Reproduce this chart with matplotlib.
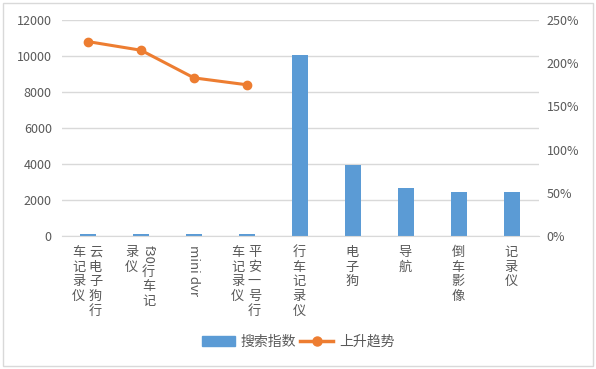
import matplotlib
matplotlib.use('Agg')
import matplotlib.pyplot as plt
import numpy as np
from matplotlib.patches import Rectangle, Patch
from matplotlib.lines import Line2D
from matplotlib.ticker import FuncFormatter

plt.rcParams['font.family'] = ['Noto Sans CJK SC', 'DejaVu Sans']

categories = ['云电子狗行车记录仪', 'f30行车记录仪', 'mini dvr', '平安一号行车记录仪',
              '行车记录仪', '电子狗', '导航', '倒车影像', '记录仪']
# category labels as Excel wraps them (right column first)
label_columns = [['云电子狗行', '车记录仪'], ['f30行车记', '录仪'], ['mini dvr'],
                 ['平安一号行', '车记录仪'], ['行车记录仪'], ['电子狗'], ['导航'],
                 ['倒车影像'], ['记录仪']]
search_index = [90, 90, 90, 90, 10050, 3960, 2680, 2460, 2460]
trend = [2.25, 2.15, 1.83, 1.75, np.nan, np.nan, np.nan, np.nan, np.nan]
left_ticks = [0, 2000, 4000, 6000, 8000, 10000, 12000]
right_ticks = [0, 0.5, 1.0, 1.5, 2.0, 2.5]

W, H = 596, 369
BLUE = '#5B9BD5'
ORANGE = '#ED7D31'
GRID = '#d9d9d9'
TXT = '#595959'

fig = plt.figure(figsize=(W / 100, H / 100), dpi=100)
ax = fig.add_axes([61.5 / W, 1 - 236 / H, 477 / W, 216 / H])
x = np.arange(len(categories))

ax.bar(x, search_index, width=0.32, color=BLUE, zorder=2)
ax.set_xlim(-0.5, len(categories) - 0.5)
ax.set_ylim(0, 12000)
ax.set_yticks(left_ticks)
ax.set_xticks([])
ax.yaxis.grid(True, color=GRID, linewidth=1)
ax.set_axisbelow(True)
for s in ['top', 'left', 'right']:
    ax.spines[s].set_visible(False)
ax.spines['bottom'].set_color(GRID)
ax.tick_params(axis='y', length=0, pad=7, labelsize=9, labelcolor=TXT)

ax2 = ax.twinx()
ax2.plot(x, trend, color=ORANGE, linewidth=2.2, marker='o', markersize=6, zorder=3)
ax2.set_ylim(0, 2.5)
ax2.set_yticks(right_ticks)
ax2.yaxis.set_major_formatter(FuncFormatter(lambda v, p: f'{v:.0%}'))
for s in ax2.spines.values():
    s.set_visible(False)
ax2.tick_params(axis='y', length=0, pad=6, labelsize=9, labelcolor=TXT)

# vertical stacked category labels
renderer = fig.canvas.get_renderer()
top_px = 245
step = 14.7
for i, cols in enumerate(label_columns):
    xc = ax.transData.transform((i, 0))[0] - 1
    n = len(cols)
    for k, col in enumerate(cols):
        xp = xc + (n - 1) / 2 * 17 - k * 17
        y = top_px
        j = 0
        while j < len(col):
            ch = col[j]
            if ord(ch) < 128:
                run = ''
                while j < len(col) and ord(col[j]) < 128:
                    run += col[j]
                    j += 1
                t = fig.text(xp / W, 1 - y / H, run, rotation=270, ha='center', va='top',
                             fontsize=9.5, color=TXT)
                bb = t.get_window_extent(renderer)
                y += bb.height + 1
            else:
                fig.text(xp / W, 1 - (y + step / 2) / H, ch, ha='center', va='center',
                         fontsize=9.5, color=TXT)
                y += step
                j += 1

handles = [Patch(color=BLUE),
           Line2D([], [], color=ORANGE, linewidth=2.5, marker='o', markersize=6.5)]
leg = fig.legend(handles, ['搜索指数', '上升趋势'], loc='center',
                 bbox_to_anchor=(0.5, 1 - 342 / H), ncol=2, frameon=False, fontsize=10,
                 handlelength=2.4, handletextpad=0.4, columnspacing=0.3)
for t in leg.get_texts():
    t.set_color(TXT)

fig.add_artist(Rectangle((3 / W, 3 / H), 590 / W, 363 / H, transform=fig.transFigure,
                         fill=False, edgecolor=GRID, linewidth=1))

fig.savefig('out.png', dpi=100)
